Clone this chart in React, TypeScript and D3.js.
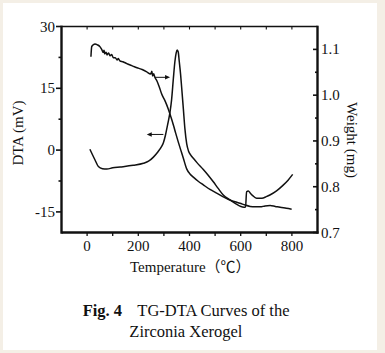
import React from 'react';
import * as d3 from 'd3';

const tempTicks = [0, 200, 400, 600, 800];
const dtaTicks = [-15, 0, 15, 30];
const dtaMinor = [-7.5, 7.5, 22.5];
const weightTicks = [0.7, 0.8, 0.9, 1.0, 1.1];
const weightMinor = [0.75, 0.85, 0.95, 1.05];

// DTA trace: [temperature (°C), signal (mV)]
const dtaCurve: [number, number][] = [
  [11, 0.2], [31, -2.4], [44, -4.0], [60, -4.5], [77, -4.6], [100, -4.3], [129, -4.1],
  [180, -3.7], [220, -3.2], [240, -2.7], [259, -1.7], [277, -0.4], [290, 0.8],
  [298, 1.8], [306, 3.6], [312, 5.4], [318, 7.2], [324, 9.3], [330, 12.2], [337, 17.4],
  [343, 21.5], [348, 23.6], [352, 24.3], [356, 23.8], [360, 21.5], [365, 18.5],
  [369, 15.5], [376, 10.0], [382, 5.2], [389, 1.6], [396, -0.2], [405, -1.2],
  [415, -2.0], [430, -3.1], [454, -4.7], [473, -6.1], [493, -7.7], [512, -9.3],
  [532, -10.9], [558, -12.1], [580, -13.0], [597, -13.6], [613, -13.9], [619, -13.8],
  [623, -10.1], [630, -9.9], [637, -10.4], [646, -11.0], [662, -11.7], [683, -11.7],
  [700, -11.3], [714, -10.9], [740, -9.9], [766, -8.5], [785, -7.3], [803, -5.9],
];

// TG trace: [temperature (°C), weight (mg)]
const tgCurve: [number, number][] = [
  [15, 1.084], [18, 1.106], [24, 1.110], [31, 1.112], [40, 1.110], [50, 1.106],
  [57, 1.100], [63, 1.093], [66, 1.098], [69, 1.090], [74, 1.094], [78, 1.088],
  [84, 1.092], [90, 1.086], [96, 1.089], [102, 1.082], [110, 1.082], [117, 1.077],
  [122, 1.080], [128, 1.075], [140, 1.073], [155, 1.069], [168, 1.066], [185, 1.062],
  [200, 1.059], [215, 1.056], [233, 1.051], [248, 1.046], [253, 1.052], [256, 1.042],
  [260, 1.047], [264, 1.040], [272, 1.032], [282, 1.018], [291, 1.003], [304, 0.988],
  [317, 0.970], [327, 0.953], [337, 0.935], [346, 0.917], [356, 0.898], [366, 0.880],
  [376, 0.862], [389, 0.839], [402, 0.828], [415, 0.821], [434, 0.812], [454, 0.804],
  [480, 0.794], [506, 0.786], [532, 0.778], [558, 0.771], [578, 0.767], [597, 0.764],
  [617, 0.760], [637, 0.757], [656, 0.756], [676, 0.756], [695, 0.758], [715, 0.759],
  [735, 0.757], [754, 0.755], [778, 0.753], [799, 0.751],
];

// arrows tying each trace to its axis: [from °C, to °C, level]
const tgArrow = [265, 324, 1.039];
const dtaArrow = [298, 233, 3.8];

const W = 385;
const H = 353;
const font = '"Liberation Serif", "Times New Roman", serif';

export default function App() {
  const x = d3.scaleLinear().domain([-100, 900]).range([61.5, 317.5]);
  const yL = d3.scaleLinear().domain([-20, 30]).range([232.5, 26.5]);
  const yR = d3.scaleLinear().domain([0.7, 1.15]).range([232.5, 26.5]);

  const dtaLine = d3.line<[number, number]>()
    .x(d => x(d[0]))
    .y(d => yL(d[1]))
    .curve(d3.curveMonotoneX);
  const tgLine = d3.line<[number, number]>()
    .x(d => x(d[0]))
    .y(d => yR(d[1]))
    .curve(d3.curveMonotoneX);

  const [x0, x1] = x.range();
  const [yb, yt] = yL.range();
  const minorX = d3.range(0, 801, 100);

  const arrow = (fromT: number, toT: number, py: number, key: string) => {
    const a = x(fromT);
    const b = x(toT);
    const dir = b > a ? 1 : -1;
    return (
      <g key={key}>
        <line x1={a} x2={b - dir * 3} y1={py} y2={py} stroke="#111" strokeWidth={1} />
        <path d={`M${b},${py} L${b - dir * 5},${py - 2.2} L${b - dir * 5},${py + 2.2} Z`} fill="#111" />
      </g>
    );
  };

  return (
    <>
      <style>{`body{margin:0}`}</style>
      <svg width={W} height={H} style={{ display: 'block', background: '#f4efe6' }} fontFamily={font}>
        <rect x={3} y={3} width={374} height={347} fill="#fff" />

        {/* ticks */}
        {minorX.map(t => (
          <g key={'xt' + t}>
            <line x1={x(t)} x2={x(t)} y1={yb} y2={yb + 3.5} stroke="#111" strokeWidth={1.3} />
            <line x1={x(t)} x2={x(t)} y1={yt} y2={yt + 3} stroke="#111" strokeWidth={1.1} />
          </g>
        ))}
        {dtaTicks.map(t => (
          <line key={'lt' + t} x1={x0 - 5.5} x2={x0} y1={yL(t)} y2={yL(t)} stroke="#111" strokeWidth={1.6} />
        ))}
        {dtaMinor.map(t => (
          <line key={'lm' + t} x1={x0 - 3} x2={x0} y1={yL(t)} y2={yL(t)} stroke="#111" strokeWidth={1.6} />
        ))}
        {weightTicks.map(t => (
          <line key={'rt' + t} x1={x1 - 4.5} x2={x1} y1={yR(t)} y2={yR(t)} stroke="#111" strokeWidth={1.6} />
        ))}
        {weightMinor.map(t => (
          <line key={'rm' + t} x1={x1 - 2.5} x2={x1} y1={yR(t)} y2={yR(t)} stroke="#111" strokeWidth={1.6} />
        ))}

        {/* frame */}
        <line x1={x0} x2={x1} y1={yt} y2={yt} stroke="#111" strokeWidth={1.6} />
        <line x1={x0} x2={x1 + 1} y1={yb} y2={yb} stroke="#111" strokeWidth={2.4} />
        <line x1={x0} x2={x0} y1={yt - 0.8} y2={yb + 1.2} stroke="#111" strokeWidth={2.4} />
        <line x1={x1} x2={x1} y1={yt - 0.8} y2={yb + 1.2} stroke="#111" strokeWidth={2.4} />

        {/* curves */}
        <path d={dtaLine(dtaCurve) || ''} fill="none" stroke="#111" strokeWidth={1.5} strokeLinejoin="round" />
        <path d={tgLine(tgCurve) || ''} fill="none" stroke="#111" strokeWidth={1.5} strokeLinejoin="round" />
        {arrow(tgArrow[0], tgArrow[1], yR(tgArrow[2]), 'a1')}
        {arrow(dtaArrow[0], dtaArrow[1], yL(dtaArrow[2]), 'a2')}

        {/* tick labels */}
        {tempTicks.map(t => (
          <text key={'xl' + t} x={x(t)} y={251} fontSize={15} textAnchor="middle" fill="#111">{t}</text>
        ))}
        {dtaTicks.map(t => (
          <text key={'ll' + t} x={55} y={yL(t) + 5} fontSize={15} textAnchor="end" fill="#111">{t}</text>
        ))}
        {weightTicks.map(t => (
          <text key={'rl' + t} x={321} y={yR(t) + 5} fontSize={15} textAnchor="start" fill="#111">{d3.format('.1f')(t)}</text>
        ))}

        {/* axis titles */}
        <text transform="translate(23,133) rotate(-90)" fontSize={15} textAnchor="middle" fill="#111">DTA (mV)</text>
        <text transform="translate(347,140) rotate(90)" fontSize={15} textAnchor="middle" fill="#111">Weight (mg)</text>
        <text x={130} y={272} fontSize={15} fill="#111">
          Temperature<tspan fontFamily='"Noto Sans CJK SC", sans-serif' fontSize={15}>（℃）</tspan>
        </text>

        {/* caption */}
        <text y={316} fontSize={16.5} fill="#111">
          <tspan x={82.7} fontWeight="bold">Fig. 4</tspan>
          <tspan x={137.3}>TG-DTA Curves of the</tspan>
        </text>
        <text x={129.3} y={337} fontSize={16.5} fill="#111">Zirconia Xerogel</text>
      </svg>
    </>
  );
}
